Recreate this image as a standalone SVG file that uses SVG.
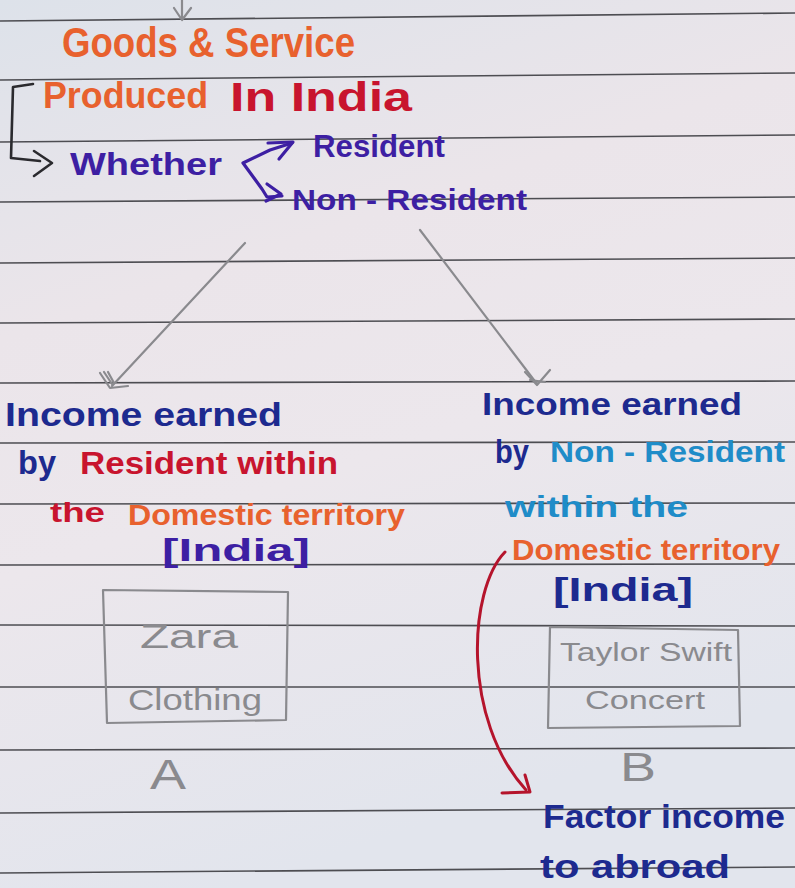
<svg xmlns="http://www.w3.org/2000/svg" width="795" height="888" viewBox="0 0 795 888">
<defs>
<linearGradient id="paper" x1="0" y1="0" x2="0.3" y2="1">
<stop offset="0" stop-color="#dde2ea"/>
<stop offset="0.35" stop-color="#ebe5ea"/>
<stop offset="0.6" stop-color="#ece7ec"/>
<stop offset="1" stop-color="#e2e5ed"/>
</linearGradient>
<style>
.rule{stroke:#4d4d52;stroke-width:1.6;fill:none}
text{font-family:"Liberation Sans","DejaVu Sans",sans-serif;font-weight:bold}
.orange{fill:#e8612e}
.red{fill:#c8142e}
.purple{fill:#3d1fa3}
.navy{fill:#1d2a8f}
.cyan{fill:#1f8cc8}
.grey{fill:#8a8a8e;font-weight:normal}
.pen{fill:none;stroke-linecap:round;stroke-linejoin:round}
.pencil{stroke:#8a8a8e;stroke-width:2.2}
.box{fill:none;stroke:#8a8a8e;stroke-width:2.2;stroke-linejoin:round}
</style>
</defs>
<rect x="0" y="0" width="795" height="888" fill="url(#paper)"/>
<g id="ruled-lines">
<line class="rule" x1="0" y1="21" x2="795" y2="13"/>
<line class="rule" x1="0" y1="80" x2="795" y2="73"/>
<line class="rule" x1="0" y1="142" x2="795" y2="135"/>
<line class="rule" x1="0" y1="202" x2="795" y2="197"/>
<line class="rule" x1="0" y1="263" x2="795" y2="258"/>
<line class="rule" x1="0" y1="323" x2="795" y2="319"/>
<line class="rule" x1="0" y1="383" x2="795" y2="381"/>
<line class="rule" x1="0" y1="443" x2="795" y2="442"/>
<line class="rule" x1="0" y1="504" x2="795" y2="503"/>
<line class="rule" x1="0" y1="565" x2="795" y2="564"/>
<line class="rule" x1="0" y1="625" x2="795" y2="626"/>
<line class="rule" x1="0" y1="687" x2="795" y2="687"/>
<line class="rule" x1="0" y1="750" x2="795" y2="748"/>
<line class="rule" x1="0" y1="813" x2="795" y2="808"/>
<line class="rule" x1="0" y1="873" x2="795" y2="867"/>
</g>
<g id="connectors">
<path class="pen pencil" d="M182 0 L182 20 M174 8 L182 20 L191 8"/>
<path class="pen" stroke="#2a2a2e" stroke-width="2.6" d="M33 84 L13 87 L11 158 L40 161"/>
<path class="pen" stroke="#2a2a2e" stroke-width="2.6" d="M34 151 L52 163 L34 176"/>
<path class="pen" stroke="#3d1fa3" stroke-width="3.2" d="M292 143 L270 150 L243 163 L262 189 L267 197 L282 196"/>
<path class="pen" stroke="#3d1fa3" stroke-width="3.2" d="M268 143 L293 142 L279 159"/>
<path class="pen" stroke="#3d1fa3" stroke-width="3.2" d="M267 184 L281 194 L266 201"/>
<path class="pen pencil" d="M245 243 L112 386"/>
<path class="pen pencil" d="M100 373 L110 388 L128 386 M104 372 L112 384 M108 372 L114 383"/>
<path class="pen pencil" d="M420 230 L537 384"/>
<path class="pen pencil" d="M525 372 L537 385 L550 370 M530 380 L545 382"/>
<path class="pen" stroke="#b5142c" stroke-width="3" d="M505 552 C468 590 462 720 526 790"/>
<path class="pen" stroke="#b5142c" stroke-width="3" d="M502 793 L530 792 L525 775"/>
</g>
<g id="node-goods">
<text class="orange" x="62" y="57" font-size="42" textLength="293" lengthAdjust="spacingAndGlyphs">Goods &amp; Service</text>
<text class="orange" x="43" y="108" font-size="36" textLength="165" lengthAdjust="spacingAndGlyphs">Produced</text>
<text class="red" x="230" y="111" font-size="40" textLength="182" lengthAdjust="spacingAndGlyphs">In India</text>
</g>
<g id="node-whether">
<text class="purple" x="70" y="175" font-size="31" textLength="152" lengthAdjust="spacingAndGlyphs">Whether</text>
</g>
<g id="node-resident">
<text class="purple" x="313" y="157" font-size="31" textLength="132" lengthAdjust="spacingAndGlyphs">Resident</text>
</g>
<g id="node-non-resident">
<text class="purple" x="292" y="210" font-size="30" textLength="235" lengthAdjust="spacingAndGlyphs">Non - Resident</text>
</g>
<g id="node-income-resident">
<text class="navy" x="5" y="426" font-size="33" textLength="277" lengthAdjust="spacingAndGlyphs">Income earned</text>
<text class="navy" x="18" y="474" font-size="34" textLength="38" lengthAdjust="spacingAndGlyphs">by</text>
<text class="red" x="80" y="474" font-size="32" textLength="258" lengthAdjust="spacingAndGlyphs">Resident within</text>
<text class="red" x="50" y="522" font-size="27" textLength="55" lengthAdjust="spacingAndGlyphs">the</text>
<text class="orange" x="128" y="525" font-size="30" textLength="277" lengthAdjust="spacingAndGlyphs">Domestic territory</text>
<text class="purple" x="162" y="561" font-size="31" textLength="148" lengthAdjust="spacingAndGlyphs">[India]</text>
</g>
<g id="node-box-a">
<path class="box" d="M103 590 L288 592 L286 720 L107 723 Z"/>
<text class="grey" x="140" y="648" font-size="34" textLength="98" lengthAdjust="spacingAndGlyphs">Zara</text>
<text class="grey" x="128" y="710" font-size="29" textLength="134" lengthAdjust="spacingAndGlyphs">Clothing</text>
<text class="grey" x="150" y="789" font-size="42" textLength="36" lengthAdjust="spacingAndGlyphs">A</text>
</g>
<g id="node-income-nonresident">
<text class="navy" x="482" y="415" font-size="32" textLength="260" lengthAdjust="spacingAndGlyphs">Income earned</text>
<text class="navy" x="495" y="463" font-size="34" textLength="34" lengthAdjust="spacingAndGlyphs">by</text>
<text class="cyan" x="550" y="462" font-size="30" textLength="235" lengthAdjust="spacingAndGlyphs">Non - Resident</text>
<text class="cyan" x="505" y="517" font-size="29" textLength="183" lengthAdjust="spacingAndGlyphs">within the</text>
<text class="orange" x="512" y="560" font-size="29" textLength="268" lengthAdjust="spacingAndGlyphs">Domestic territory</text>
<text class="navy" x="553" y="601" font-size="34" textLength="140" lengthAdjust="spacingAndGlyphs">[India]</text>
</g>
<g id="node-box-b">
<path class="box" d="M550 627 L738 630 L740 726 L548 728 Z"/>
<text class="grey" x="560" y="661" font-size="26" textLength="172" lengthAdjust="spacingAndGlyphs">Taylor Swift</text>
<text class="grey" x="585" y="709" font-size="26" textLength="120" lengthAdjust="spacingAndGlyphs">Concert</text>
<text class="grey" x="620" y="781" font-size="40" textLength="36" lengthAdjust="spacingAndGlyphs">B</text>
</g>
<g id="node-factor-income">
<text class="navy" x="543" y="828" font-size="34" textLength="242" lengthAdjust="spacingAndGlyphs">Factor income</text>
<text class="navy" x="540" y="878" font-size="34" textLength="190" lengthAdjust="spacingAndGlyphs">to abroad</text>
</g>
</svg>
